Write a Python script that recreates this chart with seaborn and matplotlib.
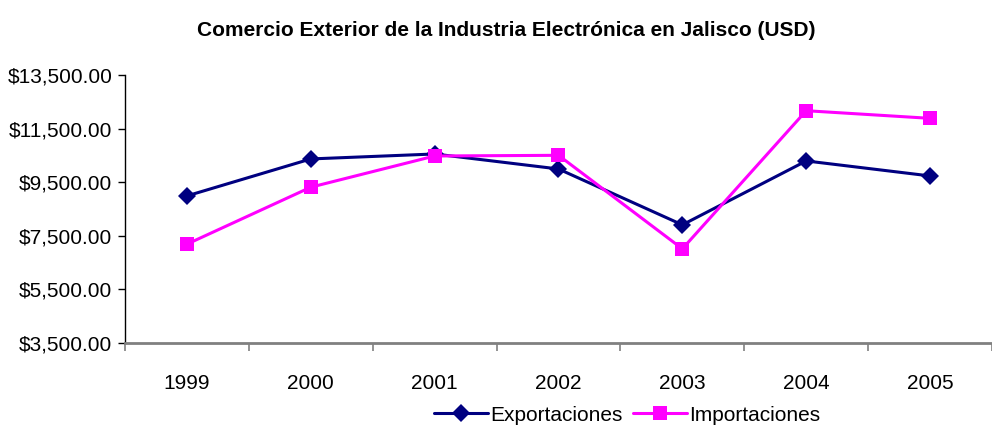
import pandas as pd
import matplotlib
matplotlib.use("Agg")
import matplotlib.pyplot as plt
import seaborn as sns
from matplotlib.ticker import FuncFormatter, FixedLocator

years = [1999, 2000, 2001, 2002, 2003, 2004, 2005]
exportaciones = [8990, 10370, 10555, 9995, 7910, 10295, 9735]
importaciones = [7190, 9315, 10480, 10505, 7015, 12170, 11885]
series_names = ["Exportaciones", "Importaciones"]
y_ticks = [3500, 5500, 7500, 9500, 11500, 13500]


def main():
    df = pd.DataFrame({
        "year": years * 2,
        "value": exportaciones + importaciones,
        "serie": [series_names[0]] * len(years) + [series_names[1]] * len(years),
    })

    sns.set_style("white")
    plt.rcParams["font.family"] = ["Liberation Sans", "DejaVu Sans"]
    plt.rcParams["text.color"] = "black"

    fig = plt.figure(figsize=(9.92, 4.28), dpi=100)
    ax = fig.add_axes([0.126, 0.1986, 0.874, 0.626])

    sns.lineplot(
        data=df, x="year", y="value", hue="serie", style="serie",
        palette={"Exportaciones": "#000080", "Importaciones": "#FF00FF"},
        markers={"Exportaciones": "D", "Importaciones": "s"},
        dashes=False, markersize=9.5, linewidth=2.2, markeredgewidth=0,
        ax=ax, legend=False,
    )

    ax.set_xlim(years[0] - 0.5, years[-1] + 0.5)
    ax.set_ylim(y_ticks[0], y_ticks[-1])
    ax.set_yticks(y_ticks)
    ax.yaxis.set_major_formatter(FuncFormatter(lambda v, p: f"${v:,.2f}"))

    ax.set_xticks(years)
    ax.set_xticklabels([str(y) for y in years])
    ax.xaxis.set_minor_locator(FixedLocator([y + 0.5 for y in range(years[0] - 1, years[-1] + 1)]))
    ax.tick_params(axis="x", which="major", bottom=False, length=0, pad=22,
                   labelsize=15, labelcolor="black")
    ax.tick_params(axis="x", which="minor", bottom=True, length=6, width=1.2,
                   color="#808080", direction="out")
    ax.tick_params(axis="y", which="major", left=True, length=5, width=1,
                   color="black", labelsize=15, pad=4, labelcolor="black")

    ax.set_xlabel("")
    ax.set_ylabel("")
    for s in ["top", "right"]:
        ax.spines[s].set_visible(False)
    ax.spines["left"].set_color("black")
    ax.spines["left"].set_linewidth(1)
    ax.spines["bottom"].set_color("#808080")
    ax.spines["bottom"].set_linewidth(2)

    # legend below the axis, shifted right as in the original
    handles = [
        plt.Line2D([], [], color="#000080", marker="D", markersize=9.5, linewidth=2.2, markeredgewidth=0),
        plt.Line2D([], [], color="#FF00FF", marker="s", markersize=9.5, linewidth=2.2, markeredgewidth=0),
    ]
    fig.legend(
        handles, series_names, loc="center", bbox_to_anchor=(0.632, 0.03),
        ncol=2, frameon=False, fontsize=15, handlelength=2.6,
        handletextpad=0.1, columnspacing=0.5, borderaxespad=0,
    )

    fig.suptitle("Comercio Exterior de la Industria Electrónica en Jalisco (USD)",
                 x=0.51, y=0.952, fontsize=15, fontweight="bold", color="black")

    fig.savefig("out.png", dpi=100)


if __name__ == "__main__":
    main()
